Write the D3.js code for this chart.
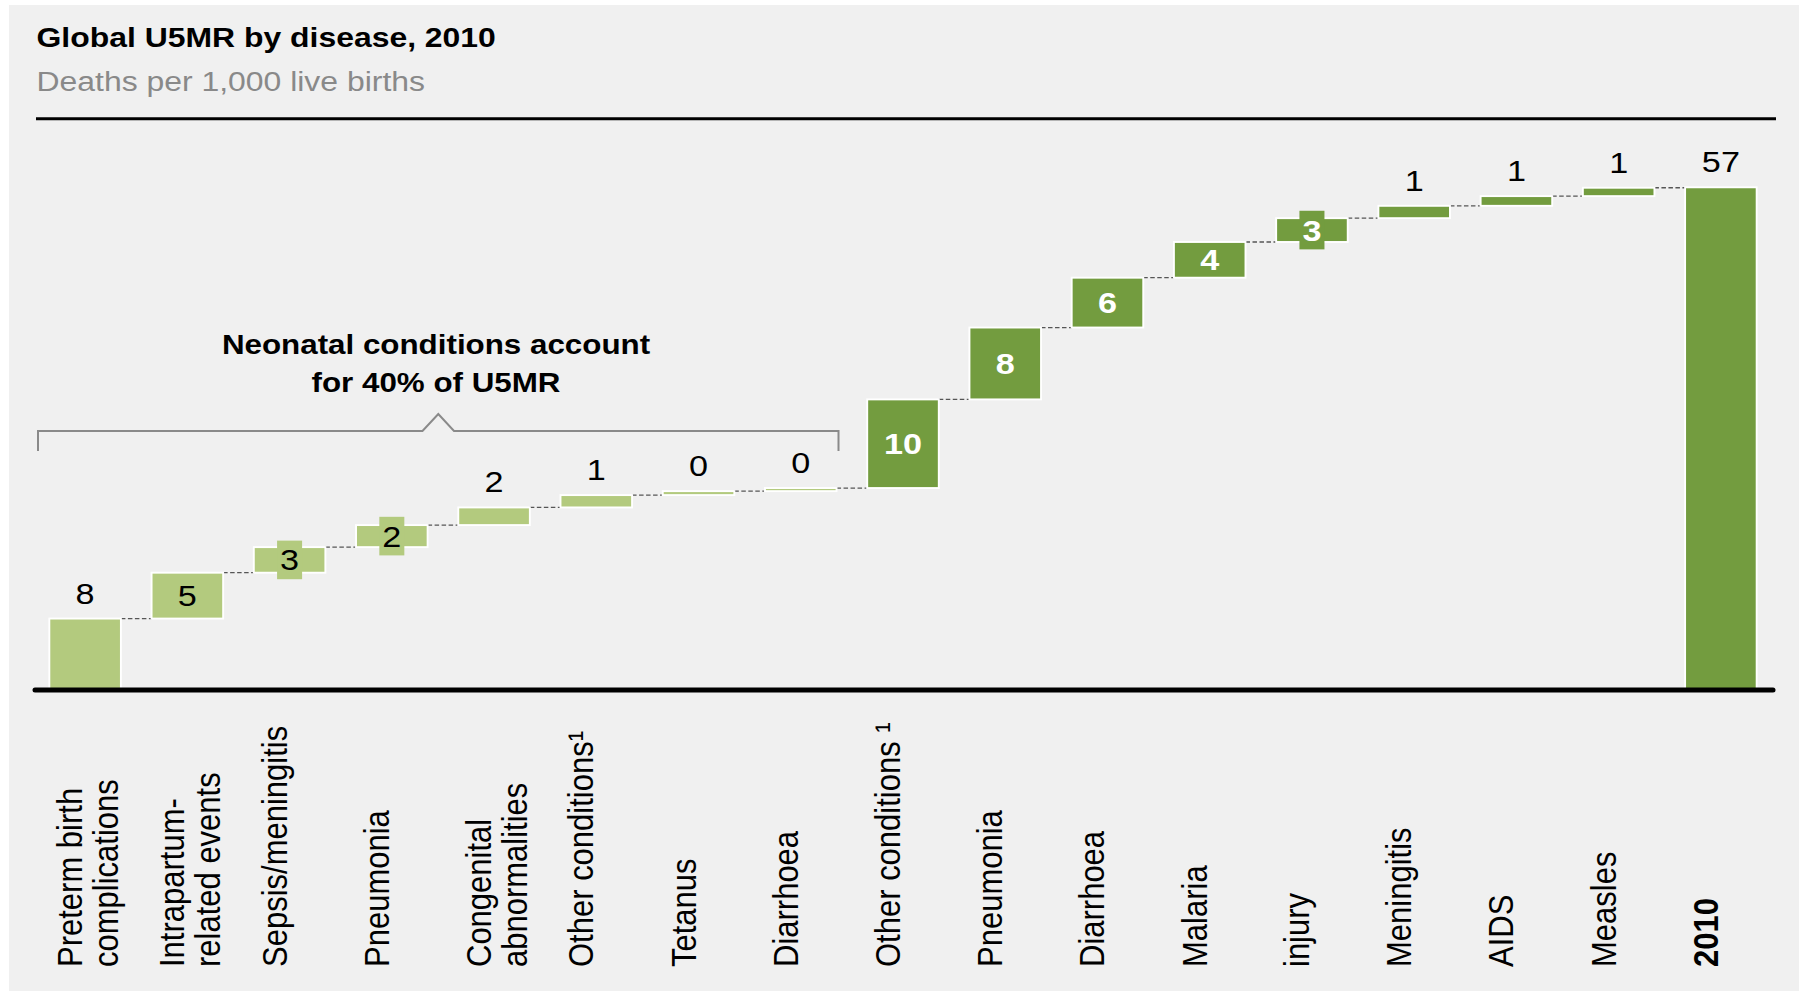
<!DOCTYPE html>
<html>
<head>
<meta charset="utf-8">
<script src="https://cdn.jsdelivr.net/npm/d3@7"></script>
<style>
  html, body { margin: 0; padding: 0; background: #ffffff; }
  svg { display: block; }
  text { font-family: "Liberation Sans", Arial, Helvetica, sans-serif; }
</style>
</head>
<body>
<svg id="chart" width="1799" height="991"></svg>
<script>
// ---------------- data ----------------
const categories = [
  "Preterm birth|complications",
  "Intrapartum-|related events",
  "Sepsis/meningitis",
  "Pneumonia",
  "Congenital|abnormalities",
  "Other conditions¹",
  "Tetanus",
  "Diarrhoea",
  "Other conditions ¹",
  "Pneumonia",
  "Diarrhoea",
  "Malaria",
  "injury",
  "Meningitis",
  "AIDS",
  "Measles",
  "2010"
];
const values = [8.1, 5.2, 2.9, 2.5, 2.0, 1.4, 0.45, 0.35, 10.05, 8.15, 5.65, 4.05, 2.7, 1.4, 1.1, 0.95];
const valueLabels = ["8", "5", "3", "2", "2", "1", "0", "0", "10", "8", "6", "4", "3", "1", "1", "1"];
const totalValue = 57;
const totalLabel = "57";
const groups = ["Neonatal", "Neonatal", "Neonatal", "Neonatal", "Neonatal", "Neonatal", "Neonatal", "Neonatal",
  "Postneonatal", "Postneonatal", "Postneonatal", "Postneonatal", "Postneonatal", "Postneonatal", "Postneonatal", "Postneonatal",
  "Total"];
const titleText = "Global U5MR by disease, 2010";
const subtitleText = "Deaths per 1,000 live births";
const annotationLines = ["Neonatal conditions account", "for 40% of U5MR"];

// ---------------- layout ----------------
const W = 1799, H = 991, SX = 1.14;
const svg = d3.select("#chart");

svg.append("rect").attr("x", 9).attr("y", 5).attr("width", W - 9).attr("height", H - 5).attr("fill", "#f0f0f0");

function place(sel, x, y, rot) {
  return sel.attr("transform", `translate(${x},${y}) scale(${SX},1)` + (rot ? ` rotate(${rot})` : ""));
}

// titles
place(svg.append("text"), 36.5, 46.5)
  .attr("font-size", 28).attr("font-weight", "bold").attr("fill", "#000").text(titleText);
place(svg.append("text"), 36.5, 91)
  .attr("font-size", 28).attr("fill", "#898989").text(subtitleText);
svg.append("line").attr("x1", 36).attr("x2", 1776).attr("y1", 118.7).attr("y2", 118.7)
  .attr("stroke", "#000").attr("stroke-width", 3);

// waterfall rows
let cum = 0;
const rows = values.map((v, i) => {
  const r = { i, start: cum, end: cum + v, label: valueLabels[i], group: groups[i] };
  cum += v;
  return r;
});
rows.push({ i: values.length, start: 0, end: totalValue, label: totalLabel, group: groups[values.length] });

const x = d3.scaleBand().domain(d3.range(rows.length)).range([34, 1772]).paddingInner(0.3).paddingOuter(0.15);
const y = d3.scaleLinear().domain([0, totalValue]).range([690, 187.3]);
const color = d3.scaleOrdinal().domain(["Neonatal", "Postneonatal", "Total"]).range(["#b3ca7e", "#739c3f", "#739c3f"]);
const bw = x.bandwidth();

// connectors
const conn = svg.append("g");
rows.slice(0, -1).forEach((r, k) => {
  conn.append("line")
    .attr("x1", x(k) + bw).attr("x2", x(k + 1))
    .attr("y1", y(r.end)).attr("y2", y(r.end))
    .attr("stroke", "#555").attr("stroke-width", 1.3).attr("stroke-dasharray", "4.5,2.5");
});

// bars
svg.append("g").selectAll("rect").data(rows).join("rect")
  .attr("x", d => x(d.i)).attr("width", bw)
  .attr("y", d => y(d.end)).attr("height", d => y(d.start) - y(d.end))
  .attr("fill", d => color(d.group))
  .attr("stroke", "#fff").attr("stroke-width", 1.9);

// value labels
const inside = new Set([1, 2, 3, 8, 9, 10, 11, 12]);
const lab = svg.append("g");
rows.forEach(d => {
  const cx = x(d.i) + bw / 2;
  if (inside.has(d.i)) {
    const y0 = y(d.end), y1 = y(d.start);
    const cy = (y0 + y1) / 2;
    const dark = d.group !== "Neonatal";
    const g = lab.append("g");
    const t = place(g.append("text"), cx, cy + 10.5)
      .attr("text-anchor", "middle").attr("font-size", 30)
      .attr("font-weight", dark ? "bold" : "normal")
      .attr("fill", dark ? "#fff" : "#000").text(d.label);
    if (y1 - y0 < 30) {
      const tw = t.node().getComputedTextLength() * SX + 6;
      g.insert("rect", "text").attr("x", cx - tw / 2).attr("width", tw)
        .attr("y", cy - 19.3).attr("height", 38.6).attr("fill", color(d.group));
    }
  } else {
    place(lab.append("text"), cx, y(d.end) - 15)
      .attr("text-anchor", "middle").attr("font-size", 30).attr("fill", "#000").text(d.label);
  }
});

// axis
const axis = d3.axisBottom(x).tickSize(0).tickSizeOuter(0).tickFormat(i => categories[i]);
const ax = svg.append("g").attr("transform", "translate(0,690)").call(axis);
ax.select(".domain").attr("stroke", "#000").attr("stroke-width", 5).attr("stroke-linecap", "round")
  .attr("d", "M35,0H1773");
ax.selectAll(".tick text").each(function (i) {
  const t = d3.select(this);
  const lines = categories[i].split("|");
  t.text(null).attr("y", null).attr("dy", null).attr("x", null)
    .attr("text-anchor", "start").attr("font-size", 31).attr("fill", "#000")
    .attr("font-weight", i === categories.length - 1 ? "bold" : "normal")
    .attr("font-family", '"Liberation Sans", Arial, Helvetica, sans-serif');
  place(t, -3, 277, -90);
  lines.forEach((ln, k) => {
    t.append("tspan").attr("x", 0).attr("dy", k === 0 ? 0 : "1.02em").text(ln);
  });
});

// annotation bracket
svg.append("path")
  .attr("d", "M38,451V431H422.5L438.3,414L454,431H838.5V451")
  .attr("fill", "none").attr("stroke", "#8a8a8a").attr("stroke-width", 2);
annotationLines.forEach((ln, k) => {
  place(svg.append("text"), 436, 354 + k * 37.7)
    .attr("text-anchor", "middle").attr("font-size", 27.5).attr("font-weight", "bold")
    .attr("fill", "#000").text(ln);
});
</script>
</body>
</html>
